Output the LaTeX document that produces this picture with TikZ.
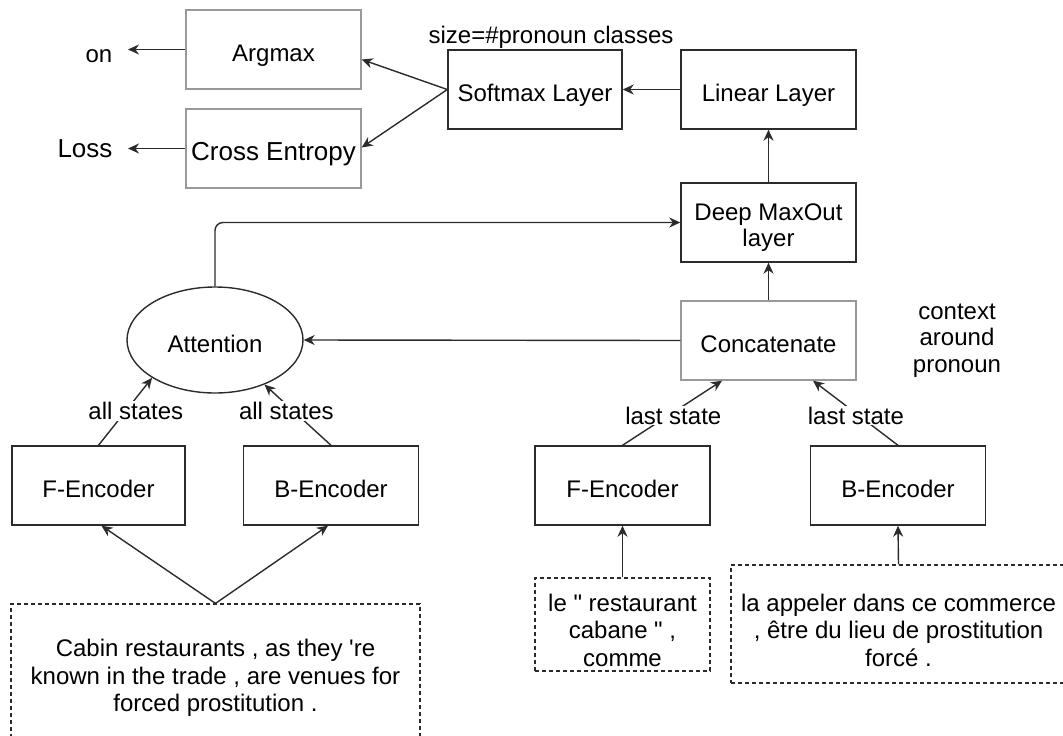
\documentclass[tikz,border=0pt]{standalone}
\usepackage{fontspec}
\setmainfont{Liberation Sans}
\usetikzlibrary{arrows.meta,shapes.geometric}
\definecolor{ln}{HTML}{2b2b2b}
\definecolor{lg}{HTML}{999999}
\newcommand\ml[1]{\begin{tabular}[t]{@{}c@{}}#1\end{tabular}}
\begin{document}
\begin{tikzpicture}[x=1pt,y=-1pt,
  every node/.style={font=\fontsize{24pt}{26.5pt}\selectfont, text=black},
  one/.style={text height=29pt, text depth=5pt},
  box/.style={draw=ln, line width=1.4pt, minimum width=175pt, minimum height=79pt, inner sep=0pt},
  gbox/.style={box, draw=lg},
  dbox/.style={draw=ln, line width=1.2pt, dash pattern=on 4pt off 3pt, inner sep=0pt, font=\fontsize{24pt}{27.5pt}\selectfont},
  arr/.style={draw=ln, line width=1.4pt, -{Stealth[length=11pt,width=10pt,inset=3.5pt]}},
  lbl/.style={fill=white, inner sep=1pt},
  big/.style={font=\fontsize{26pt}{30pt}\selectfont},
]
\useasboundingbox (0,0) rectangle (1063,736);

% top row
\node[gbox, one] (argmax) at (273.5,49.5) {Argmax};
\node[gbox, one, big] (xent) at (273.5,148.5) {Cross Entropy};
\node[box, one, minimum width=174pt] (softmax) at (535,89.5) {Softmax Layer};
\node[box, one] (linear) at (768.5,89.5) {Linear Layer};
\node[anchor=base] (size) at (551,43) {size=\#pronoun classes};
\node[anchor=base] (on) at (99,62) {on};
\node[anchor=base, big] (loss) at (85,157) {Loss};
\coordinate (onend) at (128,49.5);
\coordinate (lossend) at (128,148.5);

% middle
\node[box, text height=17pt, text depth=22pt] (deep) at (768.5,222.5) {\ml{Deep MaxOut\\layer}};
\node[gbox, one] (concat) at (768.5,340.5) {Concatenate};
\node[inner sep=0pt, text height=17pt, text depth=57pt] (ctx) at (957,339) {\ml{context\\around\\pronoun}};
\node[ellipse, one, draw=ln, line width=1.4pt, minimum width=176pt, minimum height=106pt, inner sep=0pt] (att) at (215,340) {Attention};

% encoders
\node[box, one, minimum width=173pt] (fencL) at (98.5,485.5) {F-Encoder};
\node[box, one] (bencL) at (331,485.5) {B-Encoder};
\node[box, one] (fencR) at (622.5,485.5) {F-Encoder};
\node[box, one] (bencR) at (898,485.5) {B-Encoder};

% sentences
\node[dbox, minimum width=409pt, minimum height=144pt, text height=17pt, text depth=56pt] (sentL) at (215.5,676)
  {\ml{Cabin restaurants , as they \textquotesingle re\\known in the trade , are venues for\\forced prostitution .}};
\node[dbox, minimum width=175pt, minimum height=93pt, text height=17pt, text depth=44pt] (sentR1) at (622.5,624.5)
  {\ml{le \textquotedbl{} restaurant\\cabane \textquotedbl{} ,\\comme}};
\node[dbox, minimum width=335pt, minimum height=118pt, text height=17pt, text depth=43pt] (sentR2) at (898.5,624)
  {\ml{la appeler dans ce commerce\\, être du lieu de prostitution\\forcé .}};

% connectors
\draw[arr] (argmax.west) -- (onend);
\draw[arr] (xent.west) -- (lossend);
\draw[arr] (softmax.west) -- ([yshift=-10pt]argmax.east);
\draw[arr] (softmax.west) -- ([yshift=1pt]xent.east);
\draw[arr] (linear.west) -- (softmax.east);
\draw[arr] (deep.north) -- (linear.south);
\draw[arr] (concat.north) -- (deep.south);
\draw[arr] (concat.west) -- (att.east);
\draw[arr, rounded corners=8pt] (att.north) |- (deep.west);

\draw[arr] (fencL.north) -- node[lbl, pos=0.51, xshift=10pt] {all states} (att.211);
\draw[arr] (bencL.north) -- node[lbl, pos=0.565, xshift=-7pt] {all states} (att.318.6);
\draw[arr] (fencR.north) -- node[lbl, pos=0.46, xshift=5pt] {last state} ([xshift=-46.5pt]concat.south);
\draw[arr] (bencR.north) -- node[lbl, pos=0.46, xshift=-3pt] {last state} ([xshift=44.5pt]concat.south);

\draw[arr] (sentL.north) -- ([xshift=3pt]fencL.south);
\draw[arr] (sentL.north) -- ([xshift=-3pt]bencL.south);
\draw[arr] (sentR1.north) -- (fencR.south);
\draw[arr] (sentR2.north) -- (bencR.south);
\end{tikzpicture}
\end{document}
